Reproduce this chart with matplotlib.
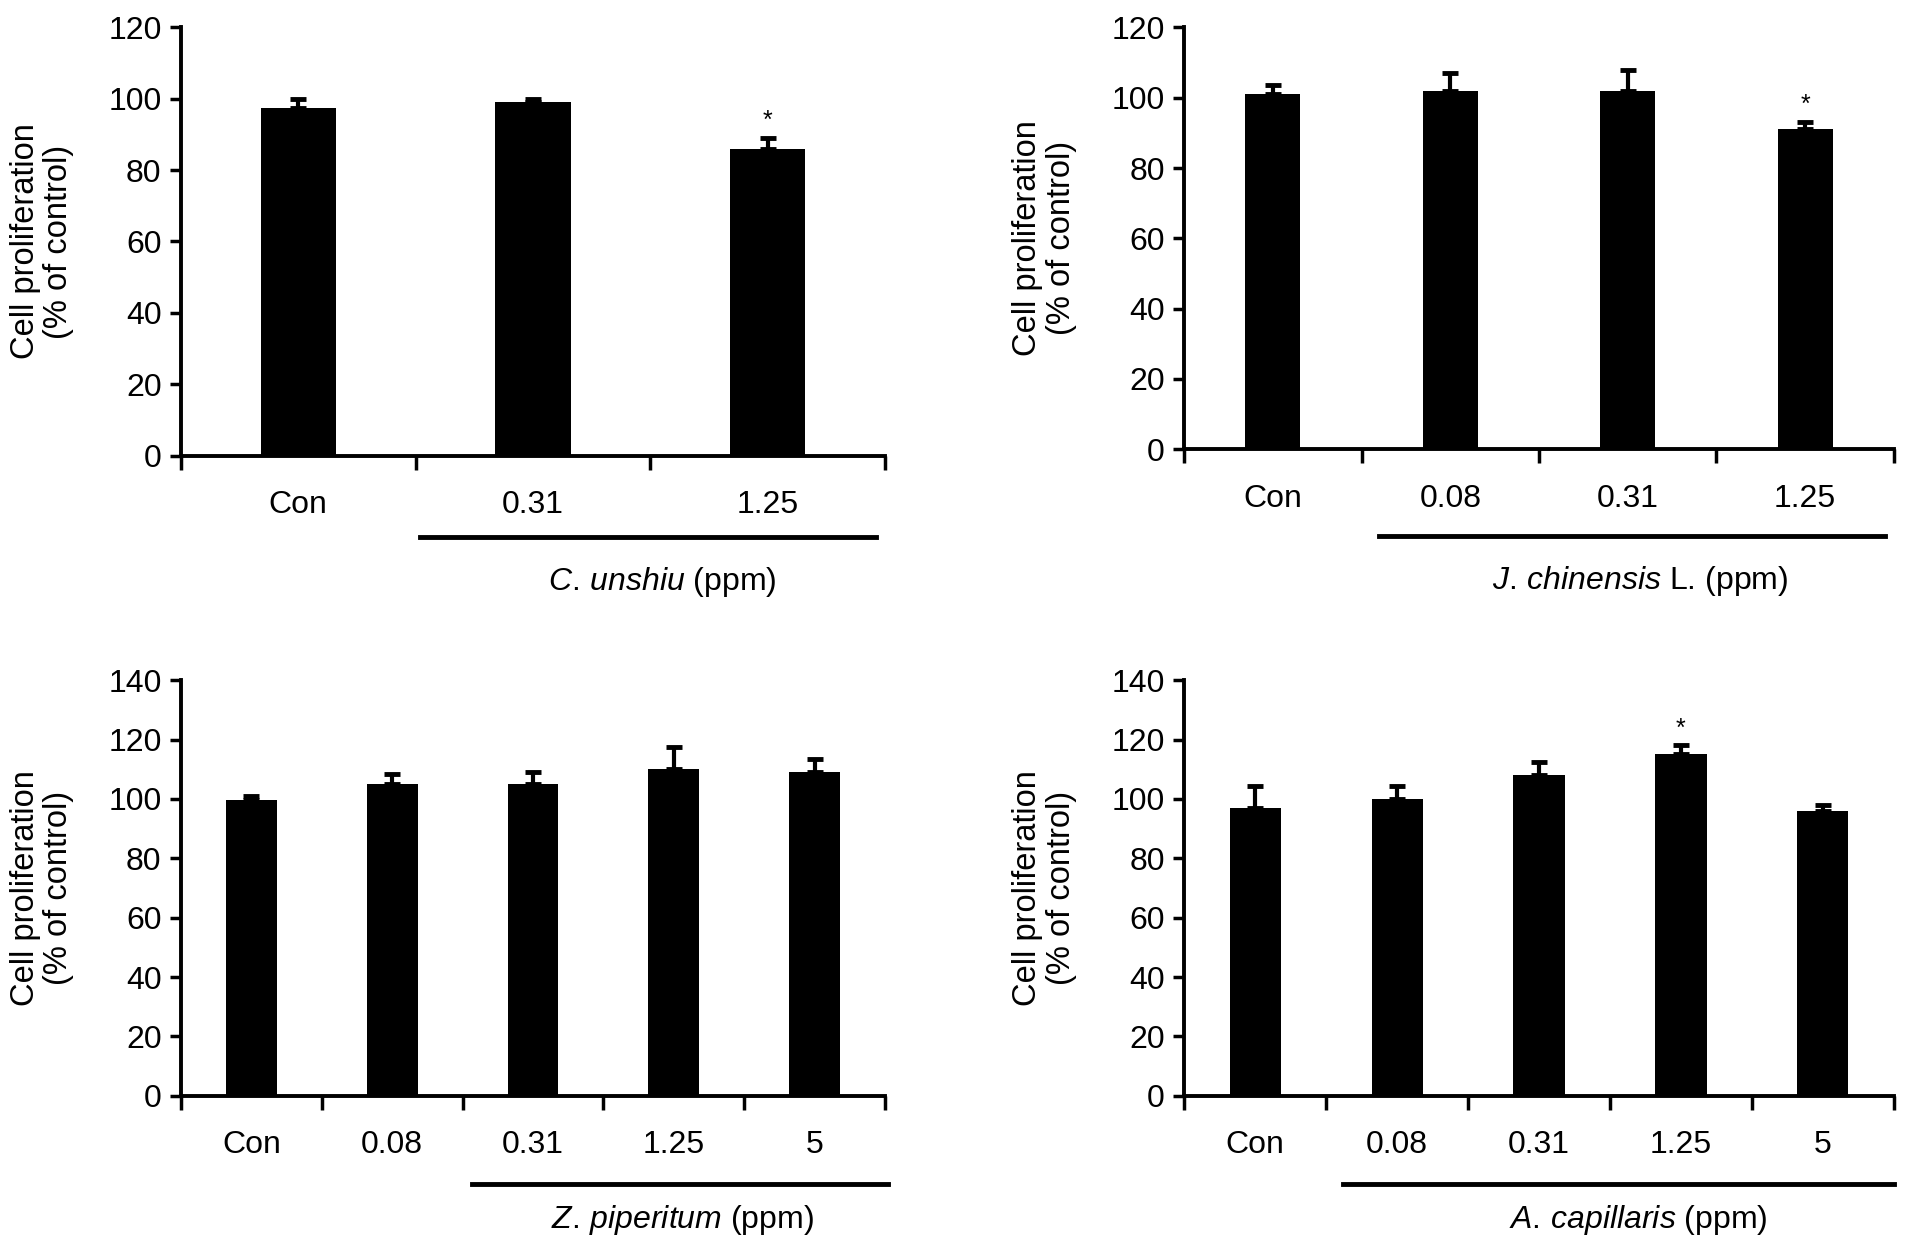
import matplotlib
matplotlib.use('Agg')
import matplotlib.pyplot as plt
import numpy as np

plt.rcParams['font.family'] = ['Liberation Sans', 'DejaVu Sans']
plt.rcParams['mathtext.fontset'] = 'custom'
plt.rcParams['mathtext.rm'] = 'Liberation Sans'
plt.rcParams['mathtext.it'] = 'Liberation Sans:italic'

# datos
cats_a = ['Con', '0.31', '1.25']
vals_a = [97.5, 99, 86]
errs_a = [2.5, 1, 3]
star_a = [False, False, True]

cats_b = ['Con', '0.08', '0.31', '1.25']
vals_b = [101, 102, 102, 91]
errs_b = [2.5, 5, 6, 2]
star_b = [False, False, False, True]

cats_c = ['Con', '0.08', '0.31', '1.25', '5']
vals_c = [99.5, 105, 105, 110, 109]
errs_c = [1.5, 3.5, 4, 7.5, 4.5]
star_c = [False, False, False, False, False]

cats_d = ['Con', '0.08', '0.31', '1.25', '5']
vals_d = [97, 100, 108, 115, 96]
errs_d = [7.5, 4.5, 4.5, 3, 2]
star_d = [False, False, False, True, False]

fig = plt.figure(figsize=(19.13, 12.48), dpi=100)


def panel(rect, cats, vals, errs, stars, ymax, width, line_x, line_y, name, label_x, label_y):
    ax = fig.add_axes(rect)
    x = np.arange(len(cats))
    ax.bar(x, vals, width=width, color='black', zorder=2)
    ax.errorbar(x, vals, yerr=[np.zeros(len(errs)), errs], fmt='none', ecolor='black',
                elinewidth=3, capsize=6, capthick=3.5, zorder=1)
    for xi, v, e, s in zip(x, vals, errs, stars):
        if s:
            ax.text(xi, v + e + 1.5, '*', ha='center', va='bottom', fontsize=18)

    ax.set_xlim(-0.5, len(cats) - 0.5)
    ax.set_ylim(0, ymax)
    ax.set_yticks(np.arange(0, ymax + 1, 20))
    ax.set_xticks(np.arange(len(cats) + 1) - 0.5)
    ax.set_xticklabels([])
    ax.set_xticks(x, cats, minor=True)
    ax.tick_params(axis='x', which='major', direction='out', length=10, width=2.5)
    ax.tick_params(axis='x', which='minor', length=0, pad=25, labelsize=23)
    ax.tick_params(axis='y', direction='out', length=8, width=2.5, pad=6, labelsize=23)

    for sp in ['top', 'right']:
        ax.spines[sp].set_visible(False)
    for sp in ['left', 'bottom']:
        ax.spines[sp].set_linewidth(2.8)

    ax.set_ylabel('Cell proliferation\n(% of control)', fontsize=23.5, va='center', linespacing=1.1)
    ax.yaxis.set_label_coords(-0.197, 0.5)

    ax.plot(line_x, [line_y, line_y], color='black', lw=3.5,
            transform=ax.get_xaxis_transform(), clip_on=False)
    ax.text(label_x, label_y, name, ha='center', va='center', fontsize=23,
            transform=ax.get_xaxis_transform())
    return ax


panel([0.0946, 0.635, 0.368, 0.343], cats_a, vals_a, errs_a, star_a, 120, 0.32,
      [0.52, 2.46], -0.19, r'$\it{C.\,unshiu}$ (ppm)', 1.55, -0.295)
panel([0.619, 0.640, 0.371, 0.338], cats_b, vals_b, errs_b, star_b, 120, 0.31,
      [0.6, 3.45], -0.206, r'$\it{J.\,chinensis}$ L. (ppm)', 2.07, -0.313)
panel([0.0946, 0.122, 0.368, 0.333], cats_c, vals_c, errs_c, star_c, 140, 0.36,
      [1.57, 4.52], -0.212, r'$\it{Z.\,piperitum}$ (ppm)', 3.06, -0.30)
panel([0.619, 0.122, 0.371, 0.333], cats_d, vals_d, errs_d, star_d, 140, 0.36,
      [0.62, 4.5], -0.212, r'$\it{A.\,capillaris}$ (ppm)', 2.7, -0.30)

plt.savefig('out.png', dpi=100)
